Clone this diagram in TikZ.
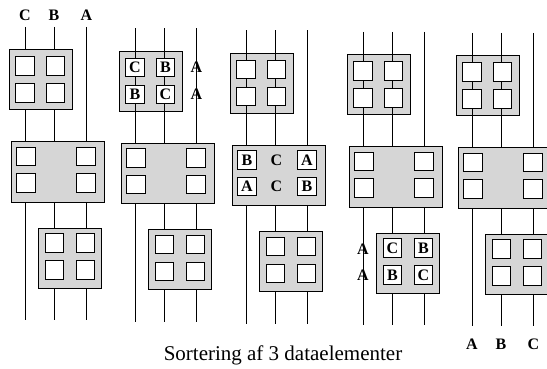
\documentclass[tikz,border=0pt]{standalone}
\usepackage{fontspec}
\setmainfont{Liberation Serif}
\usepackage{xcolor}
\usepackage{tikz}
\usetikzlibrary{positioning}
\definecolor{boxgray}{RGB}{214,214,214}

\begin{document}
\begin{tikzpicture}[
    x = 1pt, y = -1pt,
    font = \fontsize{16}{16}\selectfont\bfseries,
    wire/.style = {
      draw, line width = 0.8pt
    },
    cmpbox/.style = {
      rectangle, draw, fill = boxgray, line width = 1pt,
      inner sep = 0pt, minimum height = 60pt
    },
    cmpsmall/.style = {
      cmpbox, minimum width = 62.5pt
    },
    cmpwide/.style = {
      cmpbox, minimum width = 93pt
    },
    cell/.style = {
      rectangle, draw, fill = white, line width = 1pt,
      inner sep = 0pt, minimum size = 18.5pt
    },
    tag/.style = {
      inner sep = 0pt
    },
    ]

    \useasboundingbox (0,0) rectangle (547,369);

    % top boxes that the wires run through
    \foreach \s/\x/\d in {2/135/1.5, 3/246/3.5, 4/363/5, 5/472/6}
    \node  [cmpsmall]  (top\s)  at (\x+15.75, 80+\d)  {};

    % draw wires
    \foreach \s/\x/\d in {1/25/0, 2/135/1.5, 3/246/3.5, 4/363/5, 5/472/6}
    \foreach \w/\o in {1/0, 2/29, 3/61.5} {
      \coordinate  (in\s\w)  at (\x+\o, 27+\d);
      \coordinate  (out\s\w)  at (\x+\o, 320+\d);
      \draw  [wire]  (in\s\w)  --  (out\s\w);
    }

    % draw boxes that hide the wires
    \node  [cmpsmall]  (top1)  at (25+15.75, 80)  {};
    \foreach \s/\x/\d in {1/25/0, 2/135/1.5, 3/246/3.5, 4/363/5, 5/472/6} {
      \node  [cmpwide]  (mid\s)  at (\x+32.5, 172+\d)  {};
      \node  [cmpsmall]  (bot\s)  at (\x+45, 258+\d)  {};
    }

    % draw cells
    \foreach \s/\x/\d in {1/25/0, 2/135/1.5, 3/246/3.5, 4/363/5, 5/472/6} {
      \node  [cell]  (top\s a)  at (\x, 66+\d)  {};
      \node  [cell]  (top\s b)  at (\x+30.5, 66+\d)  {};
      \node  [cell]  (top\s c)  at (\x, 93+\d)  {};
      \node  [cell]  (top\s d)  at (\x+30.5, 93+\d)  {};
      \node  [cell]  (mid\s a)  at (\x+1, 156.5+\d)  {};
      \node  [cell]  (mid\s b)  at (\x+61, 156.5+\d)  {};
      \node  [cell]  (mid\s c)  at (\x+1, 183+\d)  {};
      \node  [cell]  (mid\s d)  at (\x+61, 183+\d)  {};
      \node  [cell]  (bot\s a)  at (\x+29.5, 243+\d)  {};
      \node  [cell]  (bot\s b)  at (\x+60.5, 243+\d)  {};
      \node  [cell]  (bot\s c)  at (\x+29.5, 270+\d)  {};
      \node  [cell]  (bot\s d)  at (\x+60.5, 270+\d)  {};
    }

    % data elements
    \foreach \c/\t in {a/C, b/B, c/B, d/C} {
      \node  [tag]  (t2\c)  at (top2\c)  {\t};
      \node  [tag]  (b4\c)  at (bot4\c)  {\t};
    }
    \foreach \c/\t in {a/B, b/A, c/A, d/B}
    \node  [tag]  (m3\c)  at (mid3\c)  {\t};
    \node  [tag]  (m3e)  at (276.5, 160)  {C};
    \node  [tag]  (m3f)  at (276.5, 186.5)  {C};
    \node  [tag]  (t2e)  at (196.5, 67.5)  {A};
    \node  [tag]  (t2f)  at (196.5, 94.5)  {A};
    \node  [tag]  (b4e)  at (363, 249)  {A};
    \node  [tag]  (b4f)  at (363, 275)  {A};

    % inputs and outputs
    \foreach \w/\t in {1/C, 2/B, 3/A}
    \node  [tag, above = 6pt of in1\w]  (lin\w)  {\t};
    \foreach \w/\t in {1/A, 2/B, 3/C}
    \node  [tag, below = 13pt of out5\w]  (lout\w)  {\t};

    \node  [tag, font = \fontsize{21}{21}\selectfont]  (caption)  at (283, 355)
      {Sortering af 3 dataelementer};

\end{tikzpicture}
\end{document}
